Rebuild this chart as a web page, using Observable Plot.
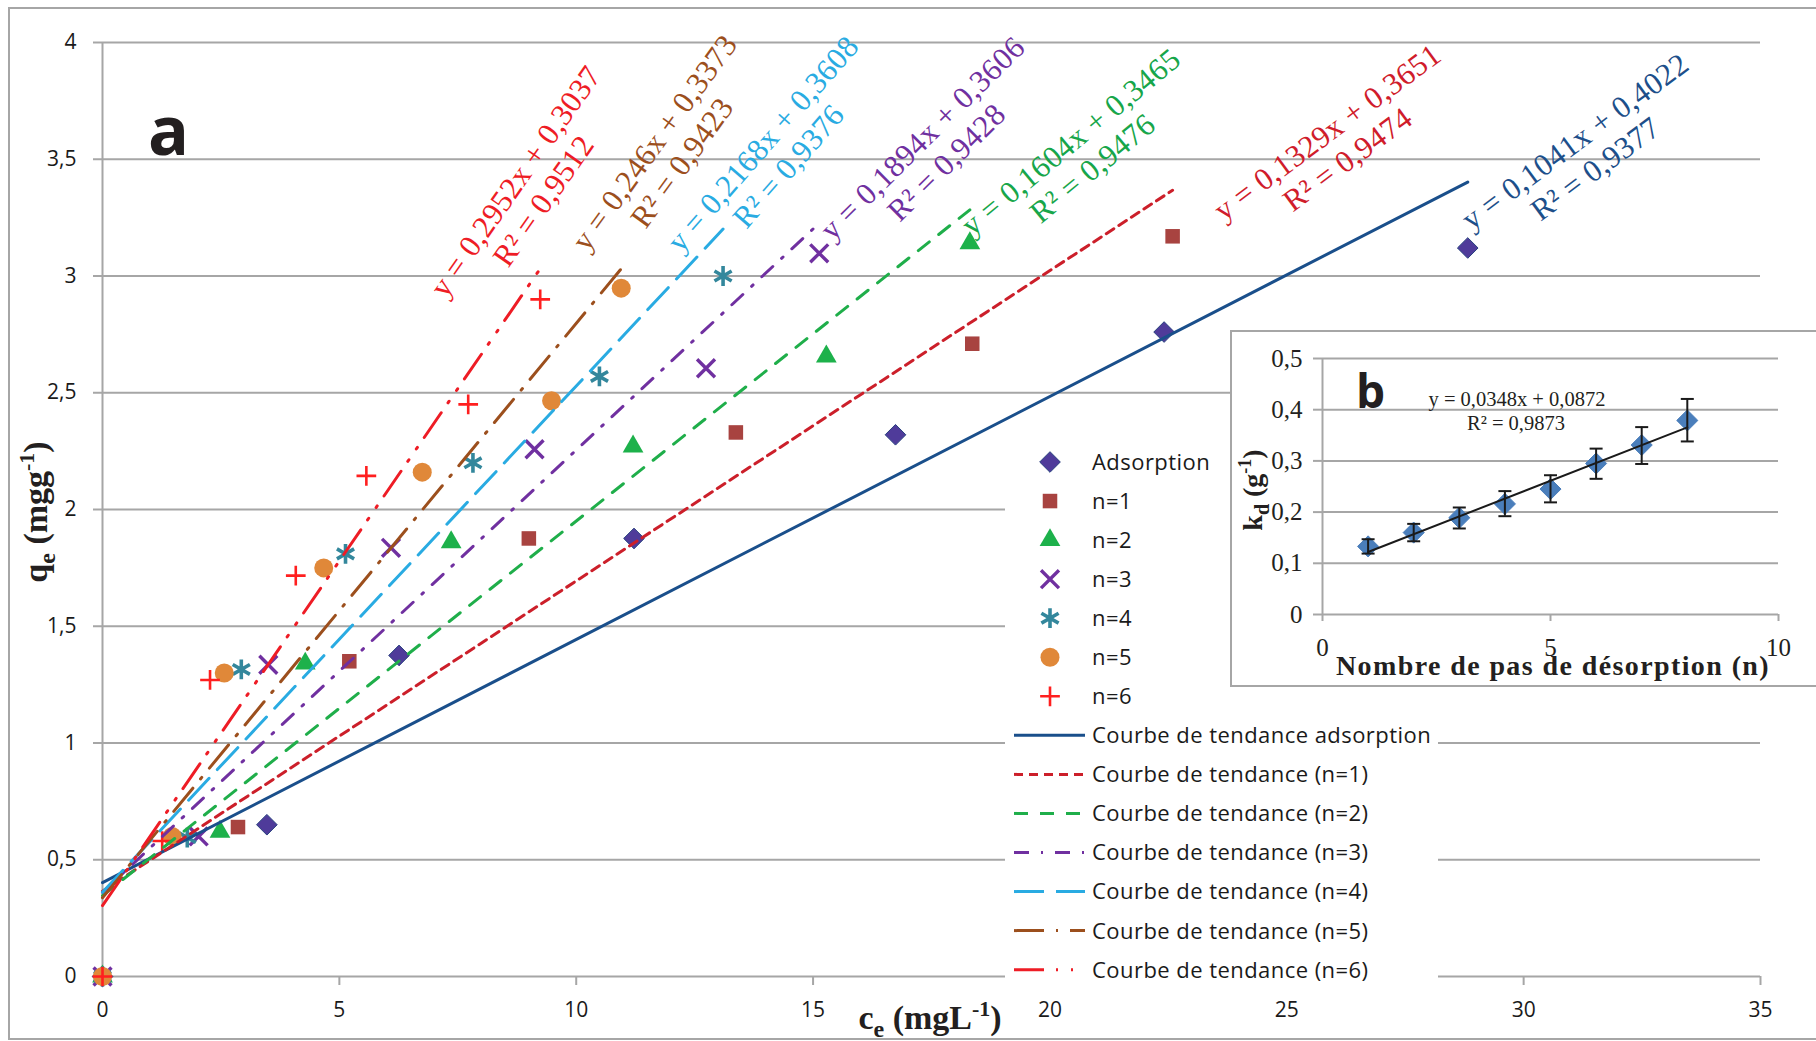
<!DOCTYPE html>
<html><head><meta charset="utf-8">
<script src="https://cdn.jsdelivr.net/npm/d3@7"></script>
<script src="https://cdn.jsdelivr.net/npm/@observablehq/plot@0.6"></script>
<style>
body{margin:0;background:#fff;}
#wrap{position:relative;width:1816px;height:1041px;overflow:hidden;background:#fff;}
#frame{position:absolute;left:8px;top:7px;width:1830px;height:1033px;border:2px solid #a6a6a6;box-sizing:border-box;}
#insetBox{position:absolute;left:1230px;top:330px;width:620px;height:357px;border:2px solid #a6a6a6;box-sizing:border-box;background:#fff;}
#main,#inset{position:absolute;}
#main{left:0;top:0;}
#inset{left:1230px;top:330px;}
</style></head><body>
<div id="wrap"><div id="frame"></div><div id="main"></div><div id="insetBox"></div><div id="inset"></div></div>
<script>
// ---------- data (main chart a) ----------
const seriesNames = ["Adsorption","n=1","n=2","n=3","n=4","n=5","n=6"];
const adsorptionCe = [0, 3.47, 6.26, 11.22, 16.74, 22.41, 28.82];
const adsorptionQe = [0, 0.65, 1.375, 1.876, 2.32, 2.76, 3.12];
const n1Ce = [0, 2.86, 5.21, 9.0, 13.37, 18.36, 22.59];
const n1Qe = [0, 0.64, 1.35, 1.876, 2.33, 2.71, 3.17];
const n2Ce = [0, 2.48, 4.28, 7.36, 11.2, 15.28, 18.31];
const n2Qe = [0, 0.62, 1.34, 1.86, 2.27, 2.655, 3.14];
const n3Ce = [0, 2.03, 3.5, 6.09, 9.12, 12.74, 15.13];
const n3Qe = [0, 0.60, 1.335, 1.836, 2.258, 2.605, 3.097];
const n4Ce = [0, 1.79, 2.93, 5.13, 7.82, 10.49, 13.1];
const n4Qe = [0, 0.595, 1.315, 1.81, 2.20, 2.57, 3.0];
const n5Ce = [0, 1.47, 2.57, 4.67, 6.75, 9.48, 10.95];
const n5Qe = [0, 0.60, 1.30, 1.75, 2.16, 2.466, 2.948];
const n6Ce = [0, 1.26, 2.27, 4.08, 5.57, 7.72, 9.24];
const n6Qe = [0, 0.58, 1.27, 1.717, 2.144, 2.45, 2.90];
const slopes = [0.1041, 0.1329, 0.1604, 0.1894, 0.2168, 0.246, 0.2952];
const intercepts = [0.4022, 0.3651, 0.3465, 0.3606, 0.3608, 0.3373, 0.3037];
const rSquared = [0.9377, 0.9474, 0.9476, 0.9428, 0.9376, 0.9423, 0.9512];
const xTicks = [0, 5, 10, 15, 20, 25, 30, 35];
const yTicks = [0, 0.5, 1, 1.5, 2, 2.5, 3, 3.5, 4];

// ---------- data (inset b) ----------
const stepN = [1, 2, 3, 4, 5, 6, 7, 8];
const kd = [0.133, 0.160, 0.189, 0.216, 0.245, 0.295, 0.331, 0.379];
const kdLow = [0.119, 0.143, 0.168, 0.192, 0.219, 0.265, 0.294, 0.338];
const kdHigh = [0.147, 0.177, 0.209, 0.241, 0.272, 0.324, 0.366, 0.421];
const kdSlope = 0.0348, kdIntercept = 0.0872, kdR2 = 0.9873;
const insetXTicks = [0, 5, 10];
const insetYTicks = [0, 0.1, 0.2, 0.3, 0.4, 0.5];

// ---------- styles ----------
const ceArrays = [adsorptionCe, n1Ce, n2Ce, n3Ce, n4Ce, n5Ce, n6Ce];
const qeArrays = [adsorptionQe, n1Qe, n2Qe, n3Qe, n4Qe, n5Qe, n6Qe];
const styles = [
  {symbol:"diamond2", r:9.3, fill:"#4f3b9a", stroke:"#27407e", sw:1, line:"#1a4f8b", dash:null, label:"#1d4f8a"},
  {symbol:"square", r:8.2, fill:"#a84340", stroke:"none", sw:0, line:"#cc1f2a", dash:"9,6", label:"#d01c2b"},
  {symbol:"triangle", r:7.7, fill:"#1db14b", stroke:"none", sw:0, line:"#1fae4a", dash:"14,12", label:"#17a64a"},
  {symbol:"times", r:8.2, fill:"none", stroke:"#7030a0", sw:3.4, line:"#7030a0", dash:"15,12,2,12", label:"#7030a0"},
  {symbol:"asterisk", r:9.4, fill:"none", stroke:"#33879c", sw:3.6, line:"#29abe2", dash:"30,12", label:"#29abe2"},
  {symbol:"circle", r:9.5, fill:"#e08839", stroke:"none", sw:0, line:"#9c4f1d", dash:"30,12,2,12", label:"#9c4f1d"},
  {symbol:"plus", r:6.4, fill:"none", stroke:"#ff1f1f", sw:2.6, line:"#ee1c25", dash:"30,12,2,13,2,12", label:"#ee1c25"}
];
// equation label placement (data coordinates of block centre, angle in degrees)
const labelLayout = [
  {x:31.29, y:3.52, a:36.5}, {x:26.06, y:3.56, a:36.5}, {x:20.66, y:3.52, a:39.6},
  {x:17.55, y:3.54, a:44.7}, {x:14.2, y:3.52, a:49}, {x:11.93, y:3.53, a:54}, {x:9.0, y:3.365, a:55}
];

const comma = v => String(v).replace(".", ",");
const points = [];
seriesNames.forEach((s, i) => ceArrays[i].forEach((c, j) => points.push({s, i, x:c, y:qeArrays[i][j]})));
const trends = seriesNames.map((s, i) => {
  const xmax = d3.max(ceArrays[i]);
  return [{x:0, y:intercepts[i]}, {x:xmax, y:slopes[i]*xmax + intercepts[i]}];
});
const labels = seriesNames.map((s, i) => ({
  x: labelLayout[i].x, y: labelLayout[i].y, a: labelLayout[i].a, color: styles[i].label,
  text: `y = ${comma(slopes[i])}x + ${comma(intercepts[i])}\nR² = ${comma(rSquared[i])}`
}));

const gridColor = "#a6a6a6";
const marks = [
  Plot.ruleY(yTicks, {stroke: gridColor, strokeWidth: 2}),
  Plot.ruleX([0], {stroke: gridColor, strokeWidth: 2}),
  Plot.axisY({ticks: yTicks, tickSize: 9, tickPadding: 17, tickFormat: comma, fontSize: 21, fontFamily: "Open Sans", stroke: gridColor, strokeWidth: 2, fill: "#1a1a1a", label: null}),
  Plot.axisX({ticks: xTicks, tickSize: 9, tickPadding: 17, tickFormat: d => String(d), fontSize: 21, fontFamily: "Open Sans", stroke: gridColor, strokeWidth: 2, fill: "#1a1a1a", label: null})
];
seriesNames.forEach((s, i) => {
  const st = styles[i];
  marks.push(Plot.dot(points.filter(p => p.i === i), {x:"x", y:"y", symbol: st.symbol, r: st.r, fill: st.fill, stroke: st.stroke, strokeWidth: st.sw}));
});
seriesNames.forEach((s, i) => {
  const st = styles[i];
  marks.push(Plot.line(trends[i], {x:"x", y:"y", stroke: st.line, strokeWidth: 3, strokeDasharray: st.dash ?? undefined}));
});
marks.push(Plot.text(labels, {x:"x", y:"y", text:"text", rotate: d => -d.a, fill: d => d.color, fontFamily: "Liberation Serif", fontSize: 31, lineHeight: 1.1, textAnchor: "middle", lineAnchor: "middle"}));

const main = Plot.plot({
  width: 1816, height: 1041,
  marginLeft: 102, marginRight: 56, marginTop: 42, marginBottom: 65,
  style: {background: "transparent", overflow: "visible"},
  x: {domain: [0, 35]}, y: {domain: [0, 4]},
  color: {type: "identity"},
  marks
});
document.getElementById("main").appendChild(main);

const svg = d3.select(main);
svg.selectAll("g[aria-label=text] text").attr("letter-spacing", "0.3");

// big "a"
svg.append("text").attr("x", 148).attr("y", 155).attr("text-anchor", "start").attr("font-family", "Open Sans").attr("font-weight", 700).attr("font-size", 68).attr("fill", "#231f20").text("a");
// axis titles
const yt = svg.append("text").attr("transform", "translate(47,512) rotate(-90)").attr("text-anchor", "middle")
  .attr("font-family", "Liberation Serif").attr("font-weight", 700).attr("font-size", 34).attr("fill", "#231f20");
yt.append("tspan").text("q");
yt.append("tspan").attr("font-size", 24).attr("dy", 8).text("e");
yt.append("tspan").attr("dy", -8).text(" (mgg");
yt.append("tspan").attr("font-size", 22).attr("dy", -13).text("-1");
yt.append("tspan").attr("dy", 13).text(")");
const xt = svg.append("text").attr("x", 930).attr("y", 1029).attr("text-anchor", "middle")
  .attr("font-family", "Liberation Serif").attr("font-weight", 700).attr("font-size", 34).attr("fill", "#231f20");
xt.append("tspan").text("c");
xt.append("tspan").attr("font-size", 24).attr("dy", 8).text("e");
xt.append("tspan").attr("dy", -8).text(" (mgL");
xt.append("tspan").attr("font-size", 22).attr("dy", -13).text("-1");
xt.append("tspan").attr("dy", 13).text(")");

// legend
const lg = svg.append("g").attr("text-anchor", "start");
lg.append("rect").attr("x", 1005).attr("y", 440).attr("width", 433).attr("height", 545).attr("fill", "#fff");
const rowY = i => 462 + i * 39.05;
seriesNames.forEach((s, i) => {
  const st = styles[i];
  const symType = {diamond2: d3.symbolDiamond2, square: d3.symbolSquare, triangle: d3.symbolTriangle, times: d3.symbolTimes, asterisk: d3.symbolAsterisk, circle: d3.symbolCircle, plus: d3.symbolPlus}[st.symbol];
  lg.append("path").attr("d", d3.symbol(symType, Math.PI * st.r * st.r)()).attr("transform", `translate(1050,${rowY(i)})`)
    .attr("fill", st.fill).attr("stroke", st.stroke).attr("stroke-width", st.sw);
  lg.append("text").attr("x", 1092).attr("y", rowY(i)).attr("dy", "0.36em").attr("text-anchor", "start").attr("font-family", "Open Sans").attr("font-size", 22).attr("letter-spacing", "0.45").attr("fill", "#1a1a1a").text(s);
});
const trendNames = ["Courbe de tendance adsorption", "Courbe de tendance (n=1)", "Courbe de tendance (n=2)", "Courbe de tendance (n=3)", "Courbe de tendance (n=4)", "Courbe de tendance (n=5)", "Courbe de tendance (n=6)"];
trendNames.forEach((t, i) => {
  const st = styles[i], yy = rowY(i + 7);
  lg.append("line").attr("x1", 1014).attr("x2", 1085).attr("y1", yy).attr("y2", yy).attr("stroke", st.line).attr("stroke-width", 3).attr("stroke-dasharray", st.dash);
  lg.append("text").attr("x", 1092).attr("y", yy).attr("dy", "0.36em").attr("text-anchor", "start").attr("font-family", "Open Sans").attr("font-size", 22).attr("letter-spacing", "0.45").attr("fill", "#1a1a1a").text(t);
});

// ---------- inset b ----------
const kdData = stepN.map((n, i) => ({n, kd: kd[i], lo: kdLow[i], hi: kdHigh[i]}));
const kdTrend = [{n: d3.min(stepN), v: kdSlope * d3.min(stepN) + kdIntercept}, {n: d3.max(stepN), v: kdSlope * d3.max(stepN) + kdIntercept}];
const capSymbol = {draw(ctx){ ctx.moveTo(-6.5, 0); ctx.lineTo(6.5, 0); }};
const inset = Plot.plot({
  width: 586, height: 357,
  marginLeft: 92, marginRight: 38, marginTop: 28, marginBottom: 73,
  style: {background: "transparent", overflow: "visible"},
  x: {domain: [0, 10]}, y: {domain: [0, 0.5]},
  marks: [
    Plot.ruleY(insetYTicks, {stroke: gridColor, strokeWidth: 2}),
    Plot.ruleX([0], {stroke: gridColor, strokeWidth: 2}),
    Plot.axisY({ticks: insetYTicks, tickSize: 9, tickPadding: 11, tickFormat: comma, fontSize: 25, fontFamily: "Liberation Serif", stroke: gridColor, strokeWidth: 2, fill: "#231f20", label: null}),
    Plot.axisX({ticks: insetXTicks, tickSize: 7, tickPadding: 17, tickFormat: d => String(d), fontSize: 25, fontFamily: "Liberation Serif", stroke: gridColor, strokeWidth: 2, fill: "#231f20", label: null}),
    Plot.dot(kdData, {x: "n", y: "kd", symbol: "diamond2", r: 9.5, fill: "#4a7ebb", stroke: "#4a7ebb", strokeWidth: 1}),
    Plot.ruleX(kdData, {x: "n", y1: "lo", y2: "hi", stroke: "#1a1a1a", strokeWidth: 2}),
    Plot.dot(kdData, {x: "n", y: "hi", symbol: capSymbol, fill: "none", stroke: "#1a1a1a", strokeWidth: 2}),
    Plot.dot(kdData, {x: "n", y: "lo", symbol: capSymbol, fill: "none", stroke: "#1a1a1a", strokeWidth: 2}),
    Plot.line(kdTrend, {x: "n", y: "v", stroke: "#1a1a1a", strokeWidth: 2})
  ]
});
document.getElementById("inset").appendChild(inset);
const isvg = d3.select(inset);
isvg.append("text").attr("x", 126).attr("y", 78).attr("text-anchor", "start").attr("font-family", "Open Sans").attr("font-weight", 700).attr("font-size", 46).attr("fill", "#231f20").text("b");
isvg.append("text").attr("x", 287).attr("y", 76).attr("text-anchor", "middle").attr("font-family", "Liberation Serif").attr("font-size", 20.5).attr("fill", "#231f20")
  .text(`y = ${comma(kdSlope)}x + ${comma(kdIntercept)}`);
isvg.append("text").attr("x", 286).attr("y", 100).attr("text-anchor", "middle").attr("font-family", "Liberation Serif").attr("font-size", 20.5).attr("fill", "#231f20")
  .text(`R² = ${comma(kdR2)}`);
const iyt = isvg.append("text").attr("transform", "translate(32,160) rotate(-90)").attr("text-anchor", "middle")
  .attr("font-family", "Liberation Serif").attr("font-weight", 700).attr("font-size", 28).attr("fill", "#231f20");
iyt.append("tspan").text("k");
iyt.append("tspan").attr("font-size", 20).attr("dy", 7).text("d");
iyt.append("tspan").attr("dy", -7).text(" (g");
iyt.append("tspan").attr("font-size", 18).attr("dy", -11).text("-1");
iyt.append("tspan").attr("dy", 11).text(")");
isvg.append("text").attr("x", 323).attr("y", 345).attr("text-anchor", "middle").attr("font-family", "Liberation Serif").attr("font-weight", 700)
  .attr("font-size", 28).attr("letter-spacing", "1.4").attr("fill", "#231f20").text("Nombre de pas de désorption (n)");
</script></body></html>
